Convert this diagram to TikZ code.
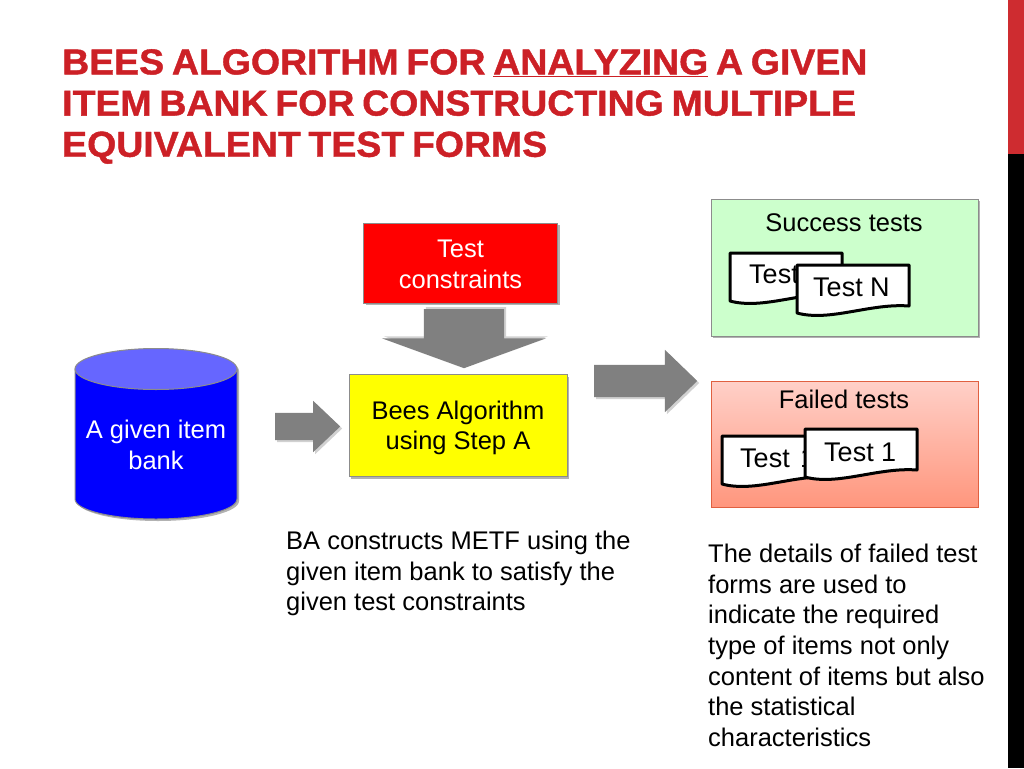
\documentclass[tikz,border=0pt]{standalone}
\usepackage{fontspec}
\setmainfont{Liberation Sans}
\newfontfamily\titlefont[FakeStretch=1.04,FakeBold=1.2,WordSpace=0.75]{Liberation Sans Bold}
\usetikzlibrary{positioning}
\usetikzlibrary{shapes.arrows}
\usetikzlibrary{shadows}
\definecolor{titlered}{RGB}{204,32,38}
\definecolor{barred}{RGB}{206,44,48}
\definecolor{binblue}{RGB}{0,0,255}
\definecolor{bintop}{RGB}{102,102,255}
\definecolor{beesyellow}{RGB}{255,255,0}
\definecolor{okgreen}{RGB}{204,255,204}
\definecolor{failedge}{RGB}{224,96,64}
\definecolor{failtop}{RGB}{255,208,200}
\definecolor{failbottom}{RGB}{255,150,125}
\newcommand{\bodyfont}{\fontsize{25.5}{30.65}\selectfont}
\tikzset{
  softshadow/.style={drop shadow={shadow xshift=2pt,shadow yshift=-2pt,opacity=0.3,fill=black}},
  faintshadow/.style={drop shadow={shadow xshift=#1,shadow yshift=-2pt,opacity=0.18,fill=black}},
  bodytext/.style={inner sep=0pt,align=left,anchor=north west,font=\bodyfont},
  boxtext/.style={inner sep=0pt,align=center,font=\bodyfont},
  boxnode/.style={draw=black!45,line width=1pt,softshadow,inner sep=0pt},
  blockarrow/.style={single arrow,fill=black!50,draw=none,inner xsep=0pt,anchor=tail},
  docline/.style={draw=black,fill=white,line width=3pt,line join=round},
  doclabel/.style={inner sep=0pt,font=\fontsize{27}{30}\selectfont}
}
% wavy sheet, upper left corner at #1,#2
\newcommand{\testsheet}[2]{
  \draw[docline] (#1,#2) -- (#1+112,#2) -- (#1+112,#2+41)
    .. controls (#1+73,#2+38) and (#1+33,#2+57) .. (#1,#2+48) -- cycle;
}
\begin{document}
\begin{tikzpicture}[x=1pt,y=-1pt]
\useasboundingbox (0,0) rectangle (1024,768);

% side bar
\fill[black] (1008,0) rectangle (1024,768);
\fill[barred] (1008,0) rectangle (1024,154);

% heading
\node[inner sep=0pt,anchor=north west,align=left,text=titlered,font=\titlefont\fontsize{36}{41.2}\selectfont] (heading) at (62,49)
  {BEES ALGORITHM FOR \underline{ANALYZING} A GIVEN\\ITEM BANK FOR CONSTRUCTING MULTIPLE\\EQUIVALENT TEST FORMS};

% left one
\fill[black,opacity=0.3] (77,371) -- (77,501) arc[start angle=180,end angle=360,x radius=81pt,y radius=20pt] -- (239,371) arc[start angle=0,end angle=180,x radius=81pt,y radius=20.5pt] -- cycle;
\draw[fill=binblue,draw=black!45,line width=1pt] (75,369) -- (75,499) arc[start angle=180,end angle=360,x radius=81pt,y radius=20pt] -- (237,369) -- cycle;
\draw[fill=bintop,draw=black!45,line width=1pt] (156,369) ellipse[x radius=81pt,y radius=20.5pt];
\node[boxtext,text=white] (bank) at (156,445) {A given item\\bank};

% middle
\node[boxnode,fill=red,minimum width=194pt,minimum height=80pt] (constraints) at (460.5,263) {};
\node[boxtext,text=white] (constraintstext) at (460.5,264.5) {Test\\constraints};
\node[boxnode,fill=beesyellow,minimum width=218pt,minimum height=102pt] (bees) at (458,425.5) {};
\node[boxtext] (beestext) at (458,428) {Bees Algorithm\\using Step A};

\coordinate (bankout) at (275,426.5);
\coordinate (constraintsout) at (464,309);
\coordinate (beesout) at (594,381);
\node[blockarrow,faintshadow=2pt,minimum height=65pt,minimum width=51pt,inner ysep=13.5pt,single arrow tip angle=87,single arrow head extend=12pt] (arrowa) at (bankout) {};
\node[blockarrow,rotate=-90,drop shadow={shadow xshift=2pt,shadow yshift=2pt,opacity=0.18,fill=black},minimum height=59pt,minimum width=164pt,inner ysep=40pt,single arrow tip angle=140,single arrow head extend=42pt] (arrowb) at (constraintsout) {};
\node[blockarrow,faintshadow=2pt,minimum height=103pt,minimum width=62pt,inner ysep=16pt,single arrow tip angle=88,single arrow head extend=15pt] (arrowc) at (beesout) {};

\node[bodytext] (metf) at (286,531) {BA constructs METF using the\\given item bank to satisfy the\\given test constraints};

% right one
\node[boxnode,fill=okgreen,minimum width=267pt,minimum height=137pt] (success) at (844.5,267.5) {};
\node[boxtext] (successlabel) at (844,223) {Success tests};
\testsheet{730}{253}
\node[doclabel,anchor=base west] (testback) at (749,283) {Test 1};
\testsheet{797}{265}
\node[doclabel,anchor=base west] (testn) at (813,296) {Test N};

\node[draw=failedge,line width=1pt,top color=failtop,bottom color=failbottom,minimum width=267pt,minimum height=126pt,inner sep=0pt] (failed) at (844.5,444) {};
\node[boxtext] (failedlabel) at (844,399) {Failed tests};
\testsheet{722}{436}
\node[doclabel,anchor=base west] (testfail) at (740,467) {Test\hspace{3pt} 1};
\testsheet{805}{429}
\node[doclabel,anchor=base west] (testone) at (824,461) {Test 1};

\node[bodytext] (details) at (708,544) {The details of failed test\\forms are used to\\indicate the required\\type of items not only\\content of items but also\\the statistical\\characteristics};

\end{tikzpicture}
\end{document}
